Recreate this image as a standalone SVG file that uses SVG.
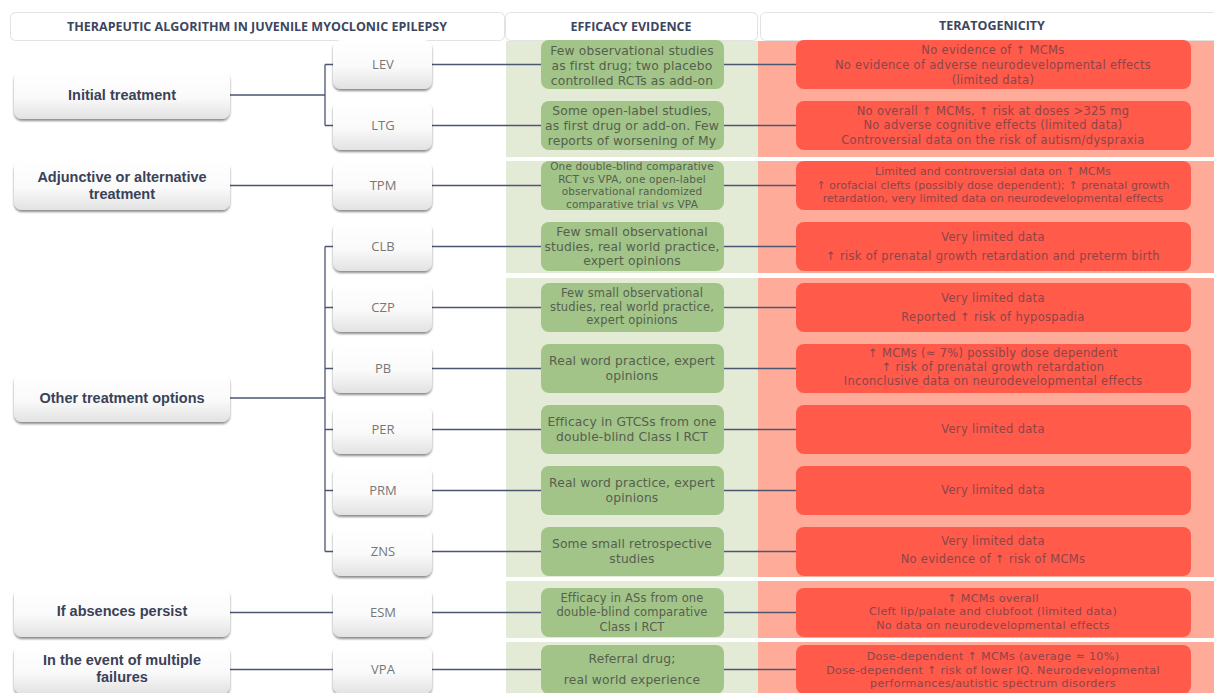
<svg xmlns="http://www.w3.org/2000/svg" width="1214" height="693" viewBox="0 0 1214 693">
<defs>
<linearGradient id="gw" x1="0" y1="0" x2="0" y2="1">
<stop offset="0" stop-color="#ffffff"/><stop offset="0.55" stop-color="#fafafa"/><stop offset="1" stop-color="#e2e2e2"/>
</linearGradient>
<filter id="sh" x="-10%" y="-20%" width="120%" height="150%">
<feDropShadow dx="0" dy="2" stdDeviation="1.3" flood-color="#000" flood-opacity="0.45"/>
</filter>
<style>
.hdr{fill:#fff;stroke:#e2e2e2;stroke-width:1}
.ht{font-family:"Open Sans","Liberation Sans",sans-serif;font-weight:bold;font-size:12.5px;fill:#3d4660;text-anchor:middle}
.cat{fill:url(#gw);filter:url(#sh)}
.ct{font-family:"Liberation Sans",Arial,sans-serif;font-weight:bold;font-size:14.5px;fill:#3a4257;text-anchor:middle}
.drug{fill:url(#gw);filter:url(#sh)}
.dt{font-family:"Open Sans","Liberation Sans",sans-serif;font-size:13px;fill:#777;text-anchor:middle}
.eff{fill:#a3c488}
.et{font-family:"DejaVu Sans",sans-serif;font-size:12.3px;fill:#55604f;text-anchor:middle;letter-spacing:0.15px}
.e115{font-size:11.5px}
.e105{font-size:10.5px}
.ter{fill:#ff5a4a}
.tt{font-family:"DejaVu Sans",sans-serif;font-size:11.5px;fill:#8c4549;text-anchor:middle;letter-spacing:0.3px}
.t113{font-size:11.2px}
.t11{font-size:10.9px;letter-spacing:0.1px}
.cn{stroke:#4b5670;stroke-width:1.3;fill:none}
</style>
</defs>
<rect width="1214" height="693" fill="#fff"/>
<g id="bands">
<rect x="506" y="41" width="252" height="116" fill="#e3ebd6"/>
<rect x="758" y="41" width="456" height="116" fill="#ffab9a"/>
<rect x="506" y="161" width="252" height="112" fill="#e3ebd6"/>
<rect x="758" y="161" width="456" height="112" fill="#ffab9a"/>
<rect x="506" y="278" width="252" height="299" fill="#e3ebd6"/>
<rect x="758" y="278" width="456" height="299" fill="#ffab9a"/>
<rect x="506" y="581" width="252" height="57" fill="#e3ebd6"/>
<rect x="758" y="581" width="456" height="57" fill="#ffab9a"/>
<rect x="506" y="642" width="252" height="51" fill="#e3ebd6"/>
<rect x="758" y="642" width="456" height="51" fill="#ffab9a"/>
</g>
<g id="header-algorithm"><rect class="hdr" x="10.5" y="12.5" width="494" height="28" rx="5"/><text class="ht" x="257" y="30.5">THERAPEUTIC ALGORITHM IN JUVENILE MYOCLONIC EPILEPSY</text></g>
<g id="header-efficacy"><rect class="hdr" x="505.5" y="12.5" width="252" height="28" rx="5"/><text class="ht" x="631" y="30.5">EFFICACY EVIDENCE</text></g>
<g id="header-teratogenicity"><rect class="hdr" x="760.5" y="12.5" width="460" height="28" rx="5"/><text class="ht" x="992" y="30">TERATOGENICITY</text></g>
<g id="connectors">
<path class="cn" d="M230,95H325M325,64.5V125.5M325,64.5H333M325,125.5H333"/>
<path class="cn" d="M230,185.5H333"/>
<path class="cn" d="M230,398H325M325,246.5V551.5M325,246.5H333M325,307.5H333M325,368.5H333M325,429.5H333M325,490.5H333M325,551.5H333"/>
<path class="cn" d="M230,612.5H333"/>
<path class="cn" d="M230,669.5H333"/>
<path class="cn" d="M432,64.5H541M724,64.5H796M432,125.5H541M724,125.5H796M432,185.5H541M724,185.5H796M432,246.5H541M724,246.5H796M432,307.5H541M724,307.5H796M432,368.5H541M724,368.5H796M432,429.5H541M724,429.5H796M432,490.5H541M724,490.5H796M432,551.5H541M724,551.5H796M432,612.5H541M724,612.5H796M432,669.5H541M724,669.5H796"/>
</g>
<g id="cat-initial"><rect class="cat" x="14" y="71" width="216" height="48" rx="8"/><text class="ct" x="122" y="100">Initial treatment</text></g>
<g id="cat-adjunctive"><rect class="cat" x="14" y="161" width="216" height="49" rx="8"/><text class="ct" x="122" y="181.5">Adjunctive or alternative</text><text class="ct" x="122" y="198.5">treatment</text></g>
<g id="cat-other"><rect class="cat" x="14" y="374" width="216" height="48" rx="8"/><text class="ct" x="122" y="403">Other treatment options</text></g>
<g id="cat-absences"><rect class="cat" x="14" y="588" width="216" height="49" rx="8"/><text class="ct" x="122" y="616">If absences persist</text></g>
<g id="cat-failures"><rect class="cat" x="14" y="645" width="216" height="49" rx="8"/><text class="ct" x="122" y="665">In the event of multiple</text><text class="ct" x="122" y="682">failures</text></g>
<g id="drug-lev"><rect class="drug" x="333" y="40" width="99" height="49" rx="8"/><text class="dt" x="383" y="69">LEV</text></g>
<g id="drug-ltg"><rect class="drug" x="333" y="101" width="99" height="49" rx="8"/><text class="dt" x="383" y="130">LTG</text></g>
<g id="drug-tpm"><rect class="drug" x="333" y="161" width="99" height="49" rx="8"/><text class="dt" x="383" y="190">TPM</text></g>
<g id="drug-clb"><rect class="drug" x="333" y="222" width="99" height="49" rx="8"/><text class="dt" x="383" y="251">CLB</text></g>
<g id="drug-czp"><rect class="drug" x="333" y="283" width="99" height="49" rx="8"/><text class="dt" x="383" y="312">CZP</text></g>
<g id="drug-pb"><rect class="drug" x="333" y="344" width="99" height="49" rx="8"/><text class="dt" x="383" y="373">PB</text></g>
<g id="drug-per"><rect class="drug" x="333" y="405" width="99" height="49" rx="8"/><text class="dt" x="383" y="434">PER</text></g>
<g id="drug-prm"><rect class="drug" x="333" y="466" width="99" height="49" rx="8"/><text class="dt" x="383" y="495">PRM</text></g>
<g id="drug-zns"><rect class="drug" x="333" y="527" width="99" height="49" rx="8"/><text class="dt" x="383" y="556">ZNS</text></g>
<g id="drug-esm"><rect class="drug" x="333" y="588" width="99" height="49" rx="8"/><text class="dt" x="383" y="617">ESM</text></g>
<g id="drug-vpa"><rect class="drug" x="333" y="645" width="99" height="49" rx="8"/><text class="dt" x="383" y="674">VPA</text></g>
<g id="eff-lev"><rect class="eff" x="541" y="40" width="183" height="49" rx="8"/><text class="et" x="632" y="54.5">Few observational studies</text><text class="et" x="632" y="69.5">as first drug; two placebo</text><text class="et" x="632" y="84.5">controlled RCTs as add-on</text></g>
<g id="eff-ltg"><rect class="eff" x="541" y="101" width="183" height="49" rx="8"/><text class="et" x="632" y="114.5">Some open-label studies,</text><text class="et" x="632" y="129.5">as first drug or add-on. Few</text><text class="et" x="632" y="144.5">reports of worsening of My</text></g>
<g id="eff-tpm"><rect class="eff" x="541" y="161" width="183" height="49" rx="8"/><text class="et e105" x="632" y="170">One double-blind comparative</text><text class="et e105" x="632" y="182.5">RCT vs VPA, one open-label</text><text class="et e105" x="632" y="195">observational randomized</text><text class="et e105" x="632" y="207.5">comparative trial vs VPA</text></g>
<g id="eff-clb"><rect class="eff" x="541" y="222" width="183" height="49" rx="8"/><text class="et" x="632" y="236">Few small observational</text><text class="et" x="632" y="250.5">studies, real world practice,</text><text class="et" x="632" y="265">expert opinions</text></g>
<g id="eff-czp"><rect class="eff" x="541" y="283" width="183" height="49" rx="8"/><text class="et e115" x="632" y="297">Few small observational</text><text class="et e115" x="632" y="310.5">studies, real world practice,</text><text class="et e115" x="632" y="324">expert  opinions</text></g>
<g id="eff-pb"><rect class="eff" x="541" y="344" width="183" height="49" rx="8"/><text class="et" x="632" y="364.5">Real word practice, expert</text><text class="et" x="632" y="379.5">opinions</text></g>
<g id="eff-per"><rect class="eff" x="541" y="405" width="183" height="49" rx="8"/><text class="et" x="632" y="425.5">Efficacy in GTCSs  from one</text><text class="et" x="632" y="440.5">double-blind Class I RCT</text></g>
<g id="eff-prm"><rect class="eff" x="541" y="466" width="183" height="49" rx="8"/><text class="et" x="632" y="486.5">Real word practice, expert</text><text class="et" x="632" y="501.5">opinions</text></g>
<g id="eff-zns"><rect class="eff" x="541" y="527" width="183" height="49" rx="8"/><text class="et" x="632" y="547.5">Some small retrospective</text><text class="et" x="632" y="562.5">studies</text></g>
<g id="eff-esm"><rect class="eff" x="541" y="588" width="183" height="49" rx="8"/><text class="et e115" x="632" y="601.5">Efficacy in ASs  from one</text><text class="et e115" x="632" y="616">double-blind comparative</text><text class="et e115" x="632" y="630.5">Class I RCT</text></g>
<g id="eff-vpa"><rect class="eff" x="541" y="645" width="183" height="49" rx="8"/><text class="et" x="632" y="662.5">Referral drug;</text><text class="et" x="632" y="683.5">real world experience</text></g>
<g id="ter-lev"><rect class="ter" x="796" y="40" width="395" height="49" rx="8"/><text class="tt" x="993" y="54">No evidence of ↑ MCMs</text><text class="tt" x="993" y="68.5">No evidence of  adverse neurodevelopmental effects</text><text class="tt" x="993" y="83.5">(limited data)</text></g>
<g id="ter-ltg"><rect class="ter" x="796" y="101" width="395" height="49" rx="8"/><text class="tt" x="993" y="114.5">No overall ↑ MCMs, ↑ risk at doses &gt;325 mg</text><text class="tt" x="993" y="129">No adverse cognitive effects  (limited data)</text><text class="tt" x="993" y="143.5">Controversial data on the risk of autism/dyspraxia</text></g>
<g id="ter-tpm"><rect class="ter" x="796" y="161" width="395" height="49" rx="8"/><text class="tt t11" x="993" y="175">Limited and controversial data on ↑ MCMs</text><text class="tt t11" x="993" y="188.5">↑ orofacial clefts (possibly dose dependent);  ↑ prenatal growth</text><text class="tt t11" x="993" y="202">retardation, very limited data on neurodevelopmental effects</text></g>
<g id="ter-clb"><rect class="ter" x="796" y="222" width="395" height="49" rx="8"/><text class="tt" x="993" y="241">Very  limited data</text><text class="tt" x="993" y="259.5">↑ risk of prenatal growth retardation and preterm birth</text></g>
<g id="ter-czp"><rect class="ter" x="796" y="283" width="395" height="49" rx="8"/><text class="tt" x="993" y="302">Very  limited data</text><text class="tt" x="993" y="321">Reported ↑ risk of hypospadia</text></g>
<g id="ter-pb"><rect class="ter" x="796" y="344" width="395" height="49" rx="8"/><text class="tt" x="993" y="357">↑ MCMs  (≈ 7%) possibly dose  dependent</text><text class="tt" x="993" y="371">↑ risk of prenatal growth retardation</text><text class="tt" x="993" y="385">Inconclusive  data on neurodevelopmental effects</text></g>
<g id="ter-per"><rect class="ter" x="796" y="405" width="395" height="49" rx="8"/><text class="tt" x="993" y="432.5">Very  limited data</text></g>
<g id="ter-prm"><rect class="ter" x="796" y="466" width="395" height="49" rx="8"/><text class="tt" x="993" y="493.5">Very  limited data</text></g>
<g id="ter-zns"><rect class="ter" x="796" y="527" width="395" height="49" rx="8"/><text class="tt" x="993" y="544.5">Very  limited data</text><text class="tt" x="993" y="563">No evidence  of ↑ risk of MCMs</text></g>
<g id="ter-esm"><rect class="ter" x="796" y="588" width="395" height="49" rx="8"/><text class="tt t113" x="993" y="601.5">↑ MCMs  overall</text><text class="tt t113" x="993" y="615">Cleft lip/palate and clubfoot (limited data)</text><text class="tt t113" x="993" y="628.5">No data on neurodevelopmental  effects</text></g>
<g id="ter-vpa"><rect class="ter" x="796" y="645" width="395" height="49" rx="8"/><text class="tt t113" x="993" y="660">Dose-dependent  ↑ MCMs  (average ≈ 10%)</text><text class="tt t113" x="993" y="673.5">Dose-dependent  ↑ risk of lower IQ. Neurodevelopmental</text><text class="tt t113" x="993" y="687">performances/autistic spectrum disorders</text></g>
</svg>
